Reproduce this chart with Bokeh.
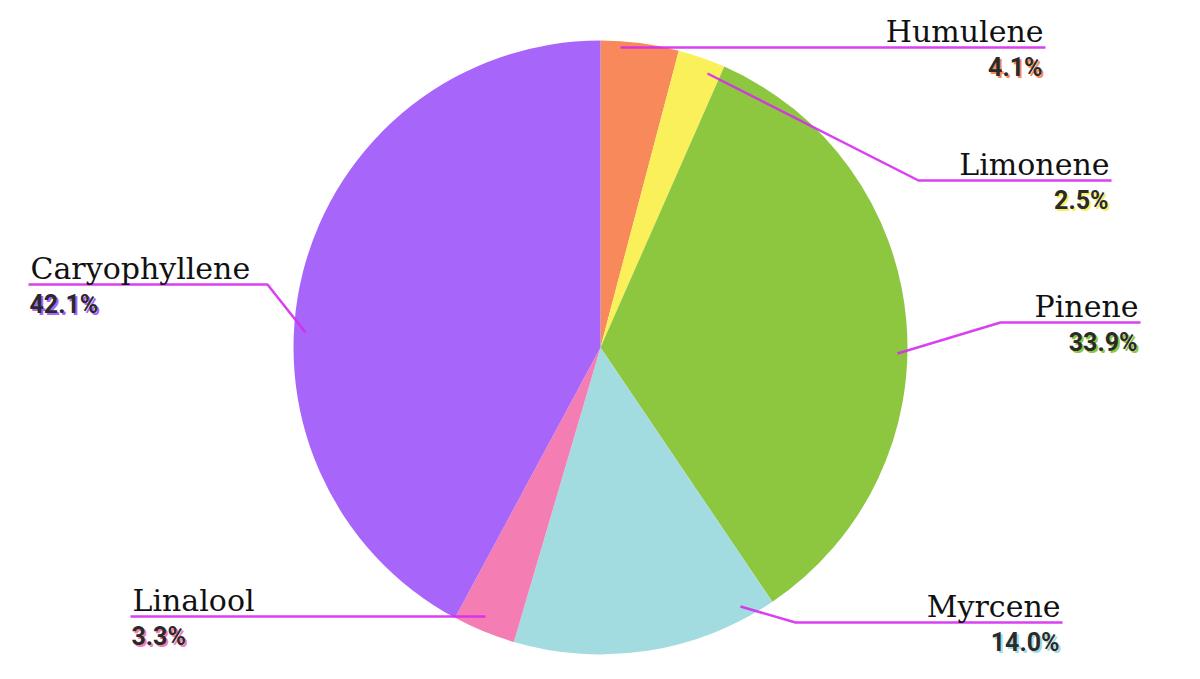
import math
from bokeh.plotting import figure
from bokeh.models import Range1d
from bokeh.core.properties import value
from bokeh.embed import file_html
from bokeh.resources import INLINE

# ---- data ----
labels = ["Humulene", "Limonene", "Pinene", "Myrcene", "Linalool", "Caryophyllene"]
values = [4.1, 2.5, 33.9, 14.0, 3.3, 42.1]
colors = ["#F8895A", "#F9F05A", "#8DC63F", "#A3DCE0", "#F47EB3", "#A865FA"]

# ---- layout (image pixel coords, y down) ----
W, H = 1184, 663
CX, CY, R = 600, 347, 307
leader_start = [(620, 47), (707, 73), (897, 353), (740, 606), (485, 616), (305, 332)]
leader_elbow = [(622, 47), (918, 180), (1000, 322), (795, 622), (483, 616), (267, 284)]
leader_end = [(1045, 47), (1111, 180), (1140, 322), (1062, 622), (130, 616), (28, 284)]
side = ["right", "right", "right", "right", "left", "left"]

def fy(y):
    return 679 - y

p = figure(width=W, height=H, output_backend="svg", toolbar_location=None,
           x_range=Range1d(0, W), y_range=Range1d(679 - H, 679),
           min_border=0)
p.axis.visible = False
p.grid.visible = False
p.outline_line_color = None
p.background_fill_color = "white"
p.border_fill_color = "white"

total = sum(values)
cum = 0.0
starts, ends = [], []
for v in values:
    a0 = math.pi / 2 - 2 * math.pi * cum / total
    cum += v
    a1 = math.pi / 2 - 2 * math.pi * cum / total
    starts.append(a0)
    ends.append(a1)

p.wedge(x=[CX] * len(values), y=[fy(CY)] * len(values), radius=R,
        start_angle=starts, end_angle=ends, direction="clock",
        fill_color=colors, line_color=None)

line_col = "#D62BF0"
for i, lab in enumerate(labels):
    xs = [leader_start[i][0], leader_elbow[i][0], leader_end[i][0]]
    ys = [fy(leader_start[i][1]), fy(leader_elbow[i][1]), fy(leader_end[i][1])]
    p.line(xs, ys, line_color=line_col, line_width=2.5, line_alpha=0.9)

    ex, ey = leader_end[i]
    if side[i] == "right":
        tx = ex - 2
        px = ex - 3
        align = "right"
    else:
        tx = ex + 2
        px = ex + 1
        align = "left"
    p.text(x=[tx], y=[fy(ey - 16)], text=[lab], text_font=value("DejaVu Serif"),
           text_font_size="30px", text_color="#111111", text_align=align,
           text_baseline="alphabetic")
    pct = f"{values[i]:.1f}%"
    p.text(x=[px + 2], y=[fy(ey + 20 + 2)], text=[pct],
           text_font=value("Roboto"), text_font_style="bold",
           text_font_size="25px", text_color=colors[i], text_align=align,
           text_baseline="alphabetic")
    p.text(x=[px], y=[fy(ey + 20)], text=[pct],
           text_font=value("Roboto"), text_font_style="bold",
           text_font_size="25px", text_color="#2A2A2A", text_align=align,
           text_baseline="alphabetic")

open("out.html", "w").write(file_html(p, INLINE))
